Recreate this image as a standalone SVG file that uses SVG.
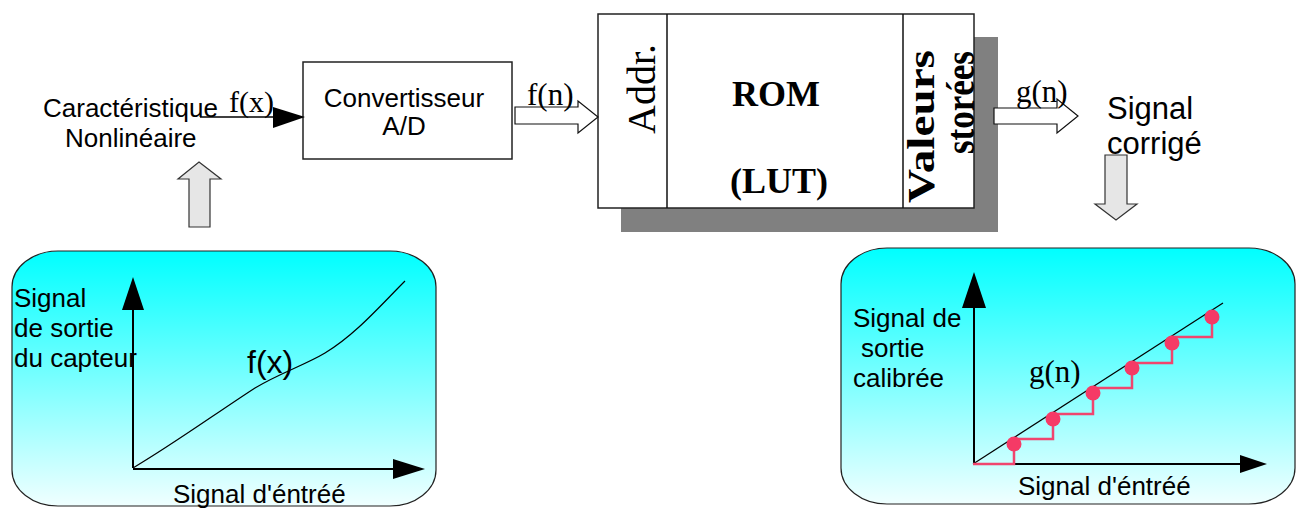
<svg xmlns="http://www.w3.org/2000/svg" width="1296" height="508" viewBox="0 0 1296 508">
  <style>
    .sans { font-family: "Liberation Sans", Arial, sans-serif; fill: #000; }
    .serif { font-family: "Liberation Serif", "Times New Roman", serif; fill: #000; }
    .box { fill: #fff; stroke: #222; stroke-width: 1.5; }
    .hollow { fill: #fff; stroke: #111; stroke-width: 1.2; }
    .grey-arrow { fill: #e6e6e6; stroke: #333; stroke-width: 1.2; }
    .panel { fill: url(#panelFill); stroke: #222; stroke-width: 1.2; }
    .axis { stroke: #000; stroke-width: 2; fill: none; }
    .head { fill: #000; }
    .stair { stroke: #f0456e; stroke-width: 2.5; fill: none; }
    .dot { fill: #f53a66; }
  </style>
  <defs>
    <linearGradient id="panelFill" x1="0" y1="0" x2="0" y2="1">
      <stop offset="0" stop-color="#00ffff"/>
      <stop offset="1" stop-color="#f0ffff"/>
    </linearGradient>
  </defs>

  <rect width="1296" height="508" fill="#fff"/>

  <!-- sensor characteristic label -->
  <g id="sensor">
    <text class="sans" x="43" y="117" font-size="26">Caractéristique</text>
    <text class="sans" x="65" y="147" font-size="26">Nonlinéaire</text>
  </g>

  <!-- A/D converter -->
  <g id="adc">
    <rect class="box" x="303" y="62" width="209" height="97"/>
    <text class="sans" x="404" y="107" font-size="26" text-anchor="middle">Convertisseur</text>
    <text class="sans" x="404" y="135" font-size="26" text-anchor="middle">A/D</text>
  </g>

  <!-- look-up table ROM -->
  <g id="rom">
    <rect x="621" y="37" width="377" height="195" fill="#808080"/>
    <rect class="box" x="598" y="14" width="376" height="194"/>
    <line x1="667" y1="14" x2="667" y2="208" stroke="#111" stroke-width="1.5"/>
    <line x1="903" y1="14" x2="903" y2="208" stroke="#111" stroke-width="1.5"/>
    <text class="serif" font-size="40" transform="translate(655,89) rotate(-90)" text-anchor="middle">Addr.</text>
    <text class="serif" x="776" y="106" font-size="36" font-weight="bold" text-anchor="middle">ROM</text>
    <text class="serif" x="779" y="193" font-size="36" font-weight="bold" text-anchor="middle">(LUT)</text>
    <text class="serif" font-size="37" font-weight="bold" transform="translate(934,203) rotate(-90)" textLength="153" lengthAdjust="spacingAndGlyphs">Valeurs</text>
    <text class="serif" font-size="39" font-weight="bold" transform="translate(974,154) rotate(-90)" textLength="103" lengthAdjust="spacingAndGlyphs">storées</text>
  </g>

  <!-- corrected output label -->
  <g id="output">
    <text class="sans" x="1107" y="119" font-size="31">Signal</text>
    <text class="sans" x="1107" y="154" font-size="31">corrigé</text>
  </g>

  <!-- sensor response plot -->
  <g id="plot-sensor">
    <rect class="panel" x="12" y="251" width="424" height="255" rx="46" ry="36"/>
    <line class="axis" x1="133" y1="468" x2="133" y2="308"/>
    <polygon class="head" points="122,310 133,277 144,310"/>
    <line class="axis" x1="133" y1="469" x2="395" y2="469" stroke-width="4"/>
    <polygon class="head" points="393,459 425,469 393,479"/>
    <path d="M133,468 C175,443 215,414 255,388 C280,373 305,365 325,353 C355,335 380,306 405,281" fill="none" stroke="#000" stroke-width="1.2"/>
    <text class="sans" x="247" y="373" font-size="32">f(x)</text>
    <text class="sans" x="14" y="307" font-size="26">Signal</text>
    <text class="sans" x="14" y="337" font-size="26">de sortie</text>
    <text class="sans" x="14" y="367" font-size="26">du capteur</text>
    <text class="sans" x="173" y="503" font-size="26">Signal d'éntréé</text>
  </g>

  <!-- calibrated output plot -->
  <g id="plot-calibrated">
    <rect class="panel" x="841" y="248" width="454" height="256" rx="46" ry="36"/>
    <line class="axis" x1="974" y1="464" x2="974" y2="306"/>
    <polygon class="head" points="962,308 974,272 986,308"/>
    <line class="axis" x1="974" y1="464" x2="1242" y2="464"/>
    <polygon class="head" points="1240,455 1267,464 1240,473"/>
    <line x1="973" y1="464" x2="1223" y2="303" stroke="#000" stroke-width="1.2"/>
    <polyline class="stair" points="973,464 1014,464 1014,439 1053,439 1053,414 1093,414 1093,388 1132,388 1132,363 1172,363 1172,337 1212,337 1212,317"/>
    <circle class="dot" cx="1014" cy="444" r="7.5"/>
    <circle class="dot" cx="1053" cy="419" r="7.5"/>
    <circle class="dot" cx="1093" cy="393" r="7.5"/>
    <circle class="dot" cx="1132" cy="368" r="7.5"/>
    <circle class="dot" cx="1172" cy="343" r="7.5"/>
    <circle class="dot" cx="1212" cy="317" r="7.5"/>
    <text class="serif" x="1029" y="382" font-size="31">g(n)</text>
    <text class="sans" x="853" y="327" font-size="26">Signal de</text>
    <text class="sans" x="861" y="357" font-size="26">sortie</text>
    <text class="sans" x="853" y="387" font-size="26">calibrée</text>
    <text class="sans" x="1018" y="495" font-size="26">Signal d'éntréé</text>
  </g>

  <!-- connectors -->
  <g id="connectors">
    <line x1="200" y1="117" x2="276" y2="117" stroke="#000" stroke-width="1.5"/>
    <polygon class="head" points="273,107 305,117 273,128"/>
    <text class="serif" x="229" y="112" font-size="30">f(x)</text>

    <polygon class="hollow" points="515,107 578,107 578,101 598,117 578,133 578,124 515,124"/>
    <text class="serif" x="527" y="105" font-size="31">f(n)</text>

    <polygon class="hollow" points="994,108 1057,108 1057,99 1078,116 1057,133 1057,124 994,124"/>
    <text class="serif" x="1016" y="102" font-size="31">g(n)</text>

    <polygon class="grey-arrow" points="199,162 221,179 210,179 210,227 189,227 189,179 178,179"/>
    <polygon class="grey-arrow" points="1105,155 1127,155 1127,204 1137,204 1116,220 1095,204 1105,204"/>
  </g>
</svg>
